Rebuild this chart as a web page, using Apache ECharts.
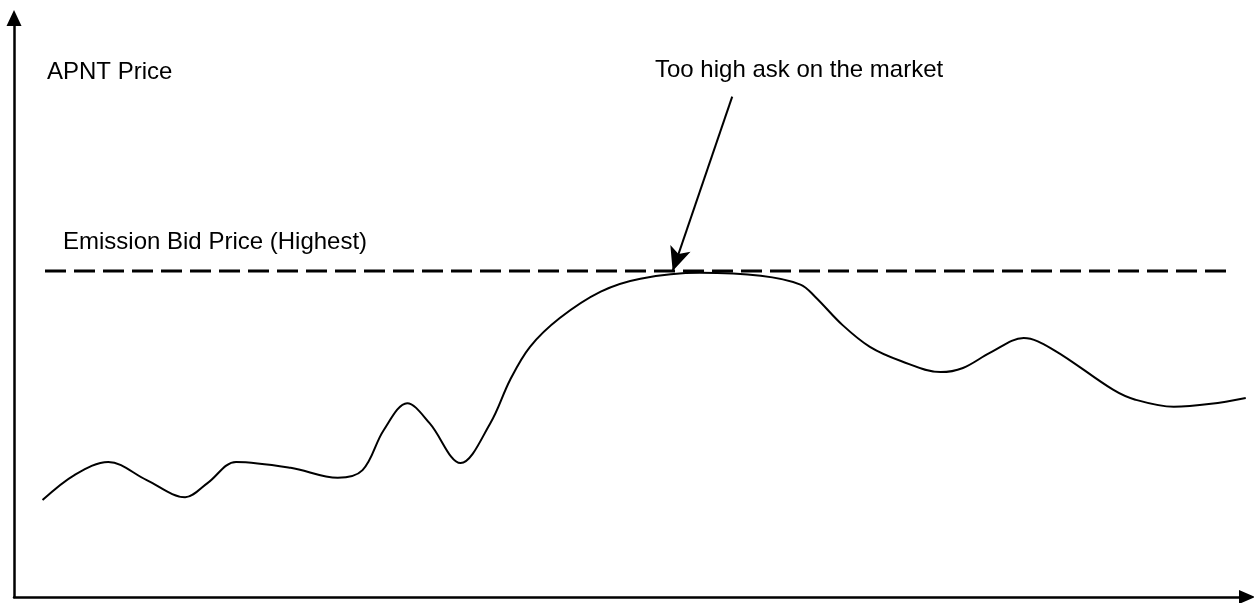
<!DOCTYPE html>
<html>
<head>
<meta charset="utf-8">
<title>APNT Price</title>
<script src="https://cdn.jsdelivr.net/npm/echarts@6/dist/echarts.min.js"></script>
<style>
  html, body { margin: 0; padding: 0; background: #fff; }
  #chart { width: 1254px; height: 603px; }
</style>
</head>
<body>
<div id="chart"></div>
<script>
// 价格曲线（抽象单位：时间 0-100，价格 0-100）
const timePoints = [2.3, 4.9, 7.6, 10.7, 13.8, 15.6, 17.9, 22.3, 26.1, 28.1, 29.8, 31.7, 33.5, 36.0,
  38.4, 40.0, 41.6, 44.0, 47.3, 50.5, 55.3, 60.2, 63.4, 64.6, 66.8, 69.0, 71.5, 74.7, 76.5,
  78.7, 81.4, 83.8, 88.6, 90.4, 93.5, 96.5, 99.3];
const priceValues = [16.5, 20.8, 23.0, 19.9, 17.0, 19.4, 23.0, 22.0, 20.3, 21.6, 28.4, 33.0, 29.6, 22.8,
  29.6, 37.0, 42.6, 47.5, 52.0, 54.2, 55.2, 54.7, 53.2, 51.1, 46.3, 42.6, 40.2, 38.3, 39.0,
  41.6, 44.1, 42.1, 35.3, 33.6, 32.4, 32.9, 33.9];

// 发行最高出价（虚线）
const bidRange = [2.5, 98.1];
const bidPrice = 55.5;

// 标注箭头：起点 / 终点
const arrowFrom = [57.9, 85.2];
const arrowTo = [53.1, 55.5];

const labels = {
  yName: 'APNT Price',
  bid: 'Emission Bid Price (Highest)',
  ask: 'Too high ask on the market'
};

const chart = echarts.init(document.getElementById('chart'));
const font = { fontFamily: '"Liberation Sans", Arial, sans-serif', fontSize: 24, fill: '#000' };

chart.setOption({
  animation: false,
  backgroundColor: '#fff',
  grid: { left: 14, right: 7, top: 18, bottom: 6 },
  xAxis: {
    type: 'value', min: 0, max: 99.4,
    axisLine: { lineStyle: { color: '#000', width: 2.5 }, symbol: ['none', 'triangle'], symbolSize: [14, 16] },
    axisTick: { show: false }, axisLabel: { show: false }, splitLine: { show: false }
  },
  yAxis: {
    type: 'value', min: 0, max: 98.6,
    axisLine: { show: true, lineStyle: { color: '#000', width: 2.5 }, symbol: ['none', 'triangle'], symbolSize: [15, 16] },
    axisTick: { show: false }, axisLabel: { show: false }, splitLine: { show: false }
  },
  series: [
    {
      type: 'line',
      data: timePoints.map((t, i) => [t, priceValues[i]]),
      smooth: 0.35,
      showSymbol: false,
      lineStyle: { color: '#000', width: 2 },
      markLine: {
        silent: true,
        symbol: ['none', 'arrow'],
        symbolSize: [16, 24],
        label: { show: false },
        lineStyle: { color: '#000', width: 2, type: 'solid' },
        data: [[{ coord: arrowFrom }, { coord: arrowTo }]]
      }
    },
    {
      type: 'line',
      data: bidRange.map(t => [t, bidPrice]),
      showSymbol: false,
      lineStyle: { color: '#000', width: 3, type: [21, 8] }
    }
  ],
  graphic: [
    { type: 'text', left: 47, top: 60, style: Object.assign({ text: labels.yName }, font) },
    { type: 'text', left: 63, top: 230, style: Object.assign({ text: labels.bid }, font) },
    { type: 'text', left: 655, top: 58, style: Object.assign({ text: labels.ask }, font) }
  ]
});

window.addEventListener('resize', () => chart.resize());
</script>
</body>
</html>
